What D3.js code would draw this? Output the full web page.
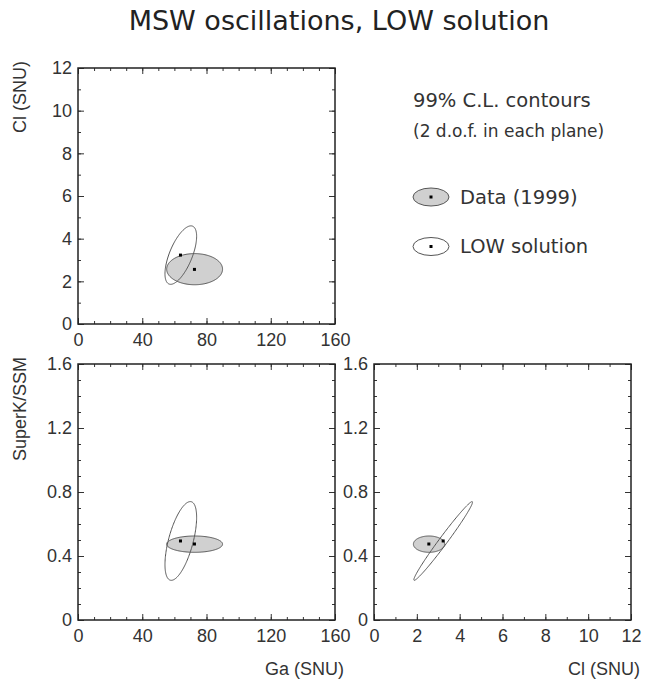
<!DOCTYPE html>
<html>
<head>
<meta charset="utf-8">
<script src="https://cdn.jsdelivr.net/npm/d3@7"></script>
<style>
  body { margin: 0; background: #fff; }
  text { font-family: "Liberation Sans", Arial, sans-serif; fill: #333; }
  .legend text { font-family: "DejaVu Sans", sans-serif; }
</style>
</head>
<body>
<div id="chart"></div>
<script>

/////////// DATA *****************************************************
// *******************************************************************

// axis ranges and tick labels
var gaDomain = [0, 160];
var clDomain = [0, 12];
var skDomain = [0, 1.6];
var gaTicks = [0, 40, 80, 120, 160];
var clTicks = [0, 2, 4, 6, 8, 10, 12];
var skTicks = [0, 0.4, 0.8, 1.2, 1.6];
var gaMinor = 10, clMinor = 1, skMinor = 0.1;

// best fit points: [Ga, Cl, SuperK/SSM]
var dataBest = [72.5, 2.56, 0.475];
var lowBest = [63.8, 3.23, 0.494];

// 99% C.L. contours: centre, half extent on each axis, correlation per plane
var dataCentre = [72.6, 2.57, 0.474];
var dataHalf = [17.4, 0.73, 0.051];
var lowCentre = [64.0, 3.23, 0.494];
var lowHalf = [9.85, 1.37, 0.246];
// planes: [Ga-Cl, Ga-SK, Cl-SK]
var dataRho = [0.0, 0.0, 0.0];
var lowRho = [0.64, 0.6, 0.985];

var titleText = "MSW oscillations, LOW solution";
var legendNames = ["Data (1999)", "LOW solution"];

/////////// SET-UP SVG AREA ******************************************
// *******************************************************************

var svgWidth = 657;
var svgHeight = 685;

var svg = d3.select("#chart")
  .append("svg")
  .attr("width", svgWidth)
  .attr("height", svgHeight);

svg.append("text")
  .attr("x", 339)
  .attr("y", 30)
  .attr("text-anchor", "middle")
  .style("font-family", "'DejaVu Sans', sans-serif")
  .style("font-size", "27px")
  .style("fill", "#222")
  .text(titleText);

// the three panels: which variable on x and y, plane index for rho
var panels = [
  { left: 78, top: 68, xi: 0, yi: 1, plane: 0, xLabel: null, yLabel: "Cl (SNU)" },
  { left: 78, top: 364, xi: 0, yi: 2, plane: 1, xLabel: "Ga (SNU)", yLabel: "SuperK/SSM" },
  { left: 374, top: 364, xi: 1, yi: 2, plane: 2, xLabel: "Cl (SNU)", yLabel: null }
];
var panelW = 257, panelH = 256;

var domains = [gaDomain, clDomain, skDomain];
var majors = [gaTicks, clTicks, skTicks];
var minorSteps = [gaMinor, clMinor, skMinor];
var tickFmt = d3.format("~g");

function minorTicks(i) {
  var d = domains[i];
  var n = Math.round((d[1] - d[0]) / minorSteps[i]);
  return d3.range(n + 1).map(k => +(d[0] + k * minorSteps[i]).toFixed(3));
}

// outline of a correlated contour
function ellipsePts(centre, half, rho, xi, yi) {
  var delta = Math.acos(rho);
  return d3.range(0, 361, 2).map(function(deg) {
    var t = deg * Math.PI / 180;
    return [centre[xi] + half[xi] * Math.cos(t), centre[yi] + half[yi] * Math.cos(t - delta)];
  });
}

/////////// DRAW PANELS **********************************************
// *******************************************************************

panels.forEach(function(p) {
  var g = svg.append("g").attr("transform", `translate(${p.left}, ${p.top})`);

  var x = d3.scaleLinear().domain(domains[p.xi]).range([0, panelW]);
  var y = d3.scaleLinear().domain(domains[p.yi]).range([panelH, 0]);

  var line = d3.line().x(d => x(d[0])).y(d => y(d[1]));

  // contours
  g.append("path")
    .datum(ellipsePts(dataCentre, dataHalf, dataRho[p.plane], p.xi, p.yi))
    .attr("d", line)
    .attr("fill", "#d0d0d0")
    .attr("stroke", "#555")
    .attr("stroke-width", 1);

  g.append("path")
    .datum(ellipsePts(lowCentre, lowHalf, lowRho[p.plane], p.xi, p.yi))
    .attr("d", line)
    .attr("fill", "none")
    .attr("stroke", "#555")
    .attr("stroke-width", 1);

  // best fit points
  g.selectAll(".pt")
    .data([dataBest, lowBest])
    .enter()
    .append("rect")
    .attr("x", d => x(d[p.xi]) - 1.5)
    .attr("y", d => y(d[p.yi]) - 1.5)
    .attr("width", 3)
    .attr("height", 3)
    .attr("fill", "#000");

  // axes: [maker, transform, variable, labelled?, padding]
  var axes = [
    [d3.axisBottom, `translate(0, ${panelH})`, x, p.xi, true, 9],
    [d3.axisTop, "translate(0, 0)", x, p.xi, false, 0],
    [d3.axisLeft, "translate(0, 0)", y, p.yi, true, 6],
    [d3.axisRight, `translate(${panelW}, 0)`, y, p.yi, false, 0]
  ];
  axes.forEach(function(a) {
    var ax = a[0](a[2]).tickValues(majors[a[3]]).tickSizeInner(-6).tickSizeOuter(0)
      .tickPadding(a[5]).tickFormat(a[4] ? tickFmt : "");
    var ag = g.append("g").attr("transform", a[1]).call(ax);
    ag.select(".domain").remove();
    ag.selectAll("line").attr("stroke", "#333");
    ag.selectAll("text").style("font-size", "18px").style("fill", "#333")
      .attr("font-family", null);

    // minor ticks
    var mg = g.append("g").attr("transform", a[1])
      .call(a[0](a[2]).tickValues(minorTicks(a[3])).tickSizeInner(-3).tickSizeOuter(0).tickFormat(""));
    mg.select(".domain").remove();
    mg.selectAll("line").attr("stroke", "#333");
  });

  // frame
  g.append("rect")
    .attr("width", panelW)
    .attr("height", panelH)
    .attr("fill", "none")
    .attr("stroke", "#222")
    .attr("stroke-width", 1.5);

  // axis titles
  if (p.yLabel) {
    svg.append("text")
      .attr("transform", `translate(${p.left - 52}, ${p.top - 7}) rotate(-90)`)
      .attr("text-anchor", "end")
      .style("font-size", "18px")
      .text(p.yLabel);
  }
  if (p.xLabel) {
    svg.append("text")
      .attr("x", p.left + panelW + 9)
      .attr("y", 675)
      .attr("text-anchor", "end")
      .style("font-size", "18px")
      .text(p.xLabel);
  }
});

////// LEGEND ********************************************************
// *******************************************************************

var legend = svg.append("g").attr("class", "legend");

legend.append("text")
  .attr("x", 413).attr("y", 107)
  .style("font-size", "19.5px")
  .text("99% C.L. contours");

legend.append("text")
  .attr("x", 413).attr("y", 137)
  .style("font-size", "17px")
  .text("(2 d.o.f. in each plane)");

var legendY = [197, 246.5];
var legendFill = ["#d0d0d0", "#fff"];

legendNames.forEach(function(name, i) {
  legend.append("ellipse")
    .attr("cx", 431).attr("cy", legendY[i])
    .attr("rx", 18).attr("ry", 9)
    .attr("fill", legendFill[i])
    .attr("stroke", "#555");
  legend.append("rect")
    .attr("x", 429.5).attr("y", legendY[i] - 1.5)
    .attr("width", 3).attr("height", 3)
    .attr("fill", "#000");
  legend.append("text")
    .attr("x", 460).attr("y", legendY[i] + 6.5)
    .style("font-size", "19.5px")
    .text(name);
});

</script>
</body>
</html>
